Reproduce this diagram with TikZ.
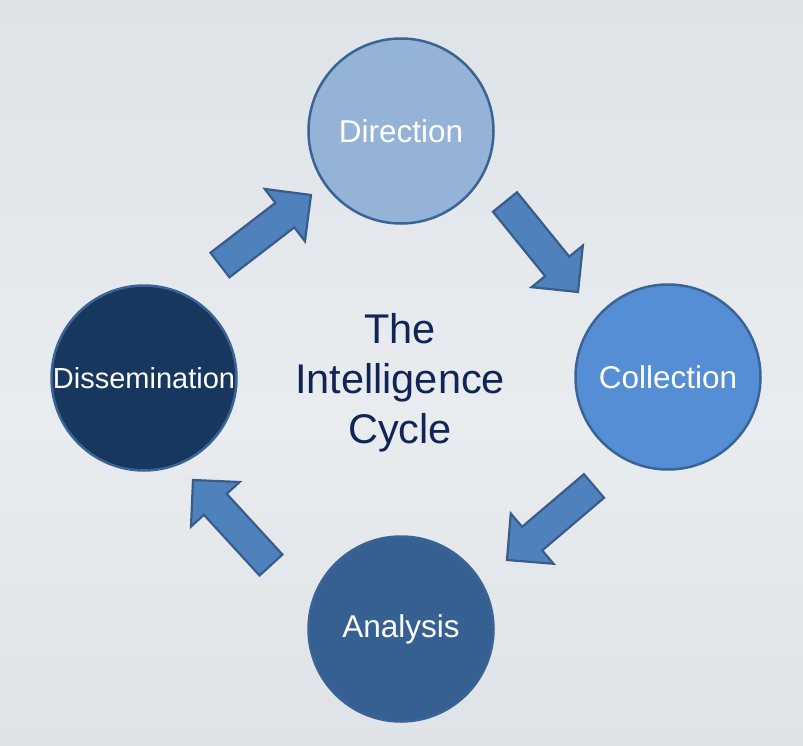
\documentclass[tikz,border=0pt]{standalone}
\usepackage{fontspec}
\setmainfont{Liberation Sans}
\usetikzlibrary{calc}
\definecolor{bgtop}{HTML}{DEE3E8}
\definecolor{bgmid}{HTML}{E9ECEF}
\definecolor{bgbot}{HTML}{DFE2E6}
\definecolor{dirfill}{HTML}{95B3D7}
\definecolor{colfill}{HTML}{558ED5}
\definecolor{anafill}{HTML}{366092}
\definecolor{disfill}{HTML}{17375E}
\definecolor{ringline}{HTML}{3A6496}
\definecolor{arrfill}{HTML}{4F81BD}
\definecolor{arrline}{HTML}{385D8A}
\definecolor{titlecol}{HTML}{0F2457}
\tikzset{
  stage/.style={circle, draw=ringline, line width=2.5pt, minimum size=185pt,
    inner sep=0pt, text=white, font=\fontsize{31.5}{36}\selectfont},
  blockarrow/.style={fill=arrfill, draw=arrline, line width=2.2pt, line join=miter},
}
\newcommand\blockarrow[2]{%
  \path ($(#2)!33pt!(#1)$) coordinate (tmpJ);
  \draw[blockarrow] ($(#1)!15.5pt!90:(#2)$) -- ($(tmpJ)!15.5pt!90:(#2)$)
    -- ($(tmpJ)!33pt!90:(#2)$) -- (#2) -- ($(tmpJ)!33pt!-90:(#2)$)
    -- ($(tmpJ)!15.5pt!-90:(#2)$) -- ($(#1)!15.5pt!-90:(#2)$) -- cycle;}
\begin{document}
\begin{tikzpicture}[x=1pt,y=-1pt]
  \useasboundingbox (0,0) rectangle (803,746);
  \shade[top color=bgtop, bottom color=bgmid] (0,0) rectangle (803,420);
  \shade[top color=bgmid, bottom color=bgbot] (0,420) rectangle (803,746);

  \node[stage, fill=dirfill] (dir) at (401,131) {Direction};
  \node[stage, fill=colfill] (col) at (668,377) {Collection};
  \node[stage, fill=anafill] (ana) at (401,629) {Analysis};
  \node[stage, fill=disfill, font=\fontsize{29}{34}\selectfont] (dis) at (144,378) {Dissemination};

  \node[text=titlecol, align=center, font=\fontsize{41.5}{50}\selectfont] (title) at (400,383)
    {The\\Intelligence\\Cycle};

  \coordinate (a1s) at (220,265); \coordinate (a1t) at (311,195);
  \coordinate (a2s) at (505,202); \coordinate (a2t) at (578,292);
  \coordinate (a3s) at (594,486); \coordinate (a3t) at (507,560);
  \coordinate (a4s) at (271,565); \coordinate (a4t) at (193,480);
  \blockarrow{a1s}{a1t}
  \blockarrow{a2s}{a2t}
  \blockarrow{a3s}{a3t}
  \blockarrow{a4s}{a4t}
\end{tikzpicture}
\end{document}
